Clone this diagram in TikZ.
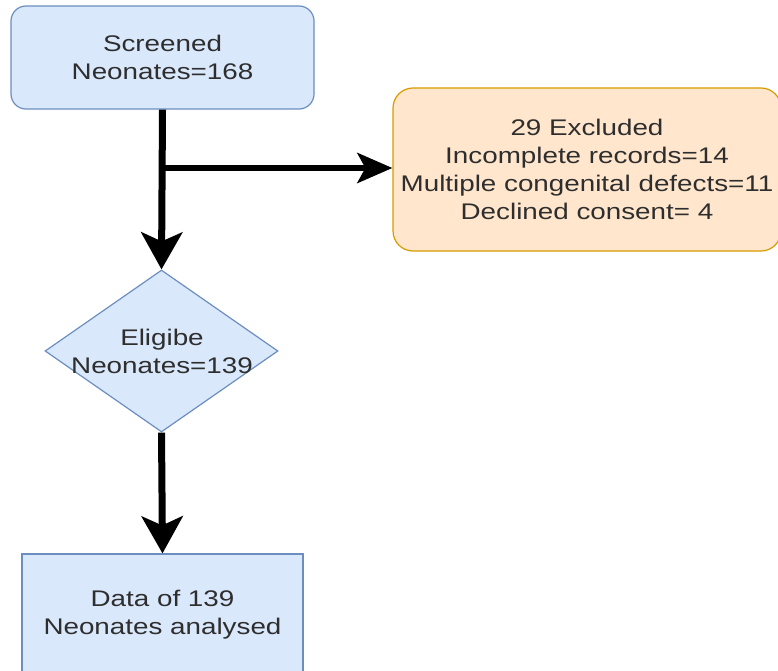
\documentclass[tikz,border=0pt]{standalone}
\usepackage{fontspec}
\setmainfont{Liberation Sans}[FakeStretch=1.23]
\usetikzlibrary{arrows.meta,shapes.geometric}
\definecolor{bfill}{HTML}{DAE8FC}
\definecolor{bline}{HTML}{6C8EBF}
\definecolor{ofill}{HTML}{FFE6CC}
\definecolor{oline}{HTML}{D79B00}
\definecolor{txt}{HTML}{2E2E2E}
\tikzset{
  bluebox/.style={draw=bline, fill=bfill, line width=1.2pt, inner sep=0pt, align=center, text=txt},
  orangebox/.style={draw=oline, fill=ofill, line width=1.2pt, inner sep=0pt, align=center, text=txt, rounded corners=20pt},
  txtnode/.style={align=center, text=txt, inner sep=0pt},
  flow/.style={line width=7pt, draw=black, -{Stealth[length=37pt,width=41pt,inset=9pt]}},
  flowh/.style={line width=6pt, draw=black, -{Stealth[length=35pt,width=30pt,inset=8pt]}},
}
\begin{document}
\begin{tikzpicture}[x=1pt,y=-1pt,font=\fontsize{22.6pt}{28pt}\selectfont]
\useasboundingbox (0,0) rectangle (778,671);
\node[bluebox, rounded corners=15pt, minimum width=303pt, minimum height=103pt] (scr) at (162.5,57.5) {Screened\\Neonates=168};
\node[orangebox, minimum width=388pt, minimum height=163pt] (excl) at (587,169.5) {29 Excluded\\Incomplete records=14\\Multiple congenital defects=11\\Declined consent= 4};
\node[diamond, draw=bline, fill=bfill, line width=1.2pt, inner sep=0pt, minimum width=233pt, minimum height=162pt] (elig) at (161.5,351) {};
\node[txtnode] (eligtext) at (162,351) {Eligibe\\Neonates=139};
\node[bluebox, minimum width=281pt, minimum height=121pt] (data) at (162.5,614.5) {Data of 139\\Neonates analysed};
\coordinate (br) at (162,168);
\draw[flow] (scr.south) -- (elig.north);
\draw[flowh] (br) -- (br -| excl.west);
\draw[flow] (elig.south) -- (data.north);
\end{tikzpicture}
\end{document}
